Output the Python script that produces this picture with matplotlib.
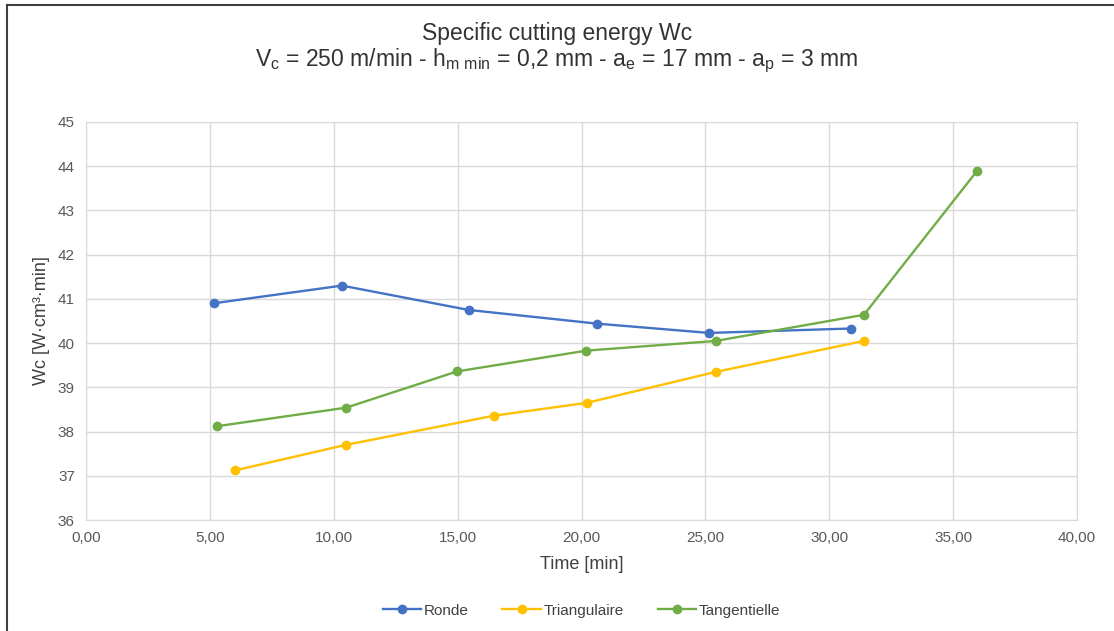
import matplotlib.pyplot as plt
from matplotlib.lines import Line2D
from matplotlib.ticker import FuncFormatter, MultipleLocator

plt.rcParams['font.family'] = ['Liberation Sans', 'DejaVu Sans']
plt.rcParams['mathtext.default'] = 'regular'

# data
ronde_t = [5.15, 10.33, 15.44, 20.63, 25.15, 30.87]
ronde_wc = [40.90, 41.30, 40.75, 40.44, 40.23, 40.33]

tri_t = [6.0, 10.5, 16.48, 20.22, 25.43, 31.4]
tri_wc = [37.12, 37.70, 38.36, 38.65, 39.35, 40.05]

tang_t = [5.28, 10.5, 14.98, 20.2, 25.43, 31.4, 35.96]
tang_wc = [38.12, 38.54, 39.36, 39.83, 40.05, 40.64, 43.89]

fig = plt.figure(figsize=(11.14, 6.31), dpi=100)
ax = fig.add_axes([0.0772, 0.1759, 0.8896, 0.6308])

ax.plot(ronde_t, ronde_wc, color='#4472C4', lw=1.7, marker='o', ms=6, label='Ronde')
ax.plot(tri_t, tri_wc, color='#FFC000', lw=1.7, marker='o', ms=6, label='Triangulaire')
ax.plot(tang_t, tang_wc, color='#70AD47', lw=1.7, marker='o', ms=6, label='Tangentielle')

ax.set_xlim(0, 40)
ax.set_ylim(36, 45)
ax.xaxis.set_major_locator(MultipleLocator(5))
ax.yaxis.set_major_locator(MultipleLocator(1))
ax.xaxis.set_major_formatter(FuncFormatter(lambda v, p: f'{v:.2f}'.replace('.', ',')))
ax.grid(True, color='#D9D9D9', lw=1)
ax.set_axisbelow(True)
for s in ax.spines.values():
    s.set_color('#D9D9D9')
ax.tick_params(length=0, labelsize=11, colors='#595959', pad=8)

ax.set_xlabel('Time [min]', fontsize=13, color='#404040', labelpad=8)
ax.set_ylabel('Wc [W·cm³·min]', fontsize=13, color='#404040', labelpad=6)

fig.text(0.5, 0.947, 'Specific cutting energy Wc', ha='center', va='center',
         fontsize=16.5, color='#333333')
fig.text(0.5, 0.903,
         r'V$_c$ = 250 m/min - h$_{m\ min}$ = 0,2 mm - a$_e$ = 17 mm - a$_p$ = 3 mm',
         ha='center', va='center', fontsize=16.5, color='#333333')

ax.legend(loc='center', bbox_to_anchor=(0.5, -0.228), ncol=3, frameon=False,
          fontsize=11, handlelength=2.5, columnspacing=2.2, handletextpad=0.2,
          labelcolor='#404040')

# outer chart border (top and left only visible)
fig.add_artist(Line2D([0.0067, 1], [0.9921, 0.9921], color='#404040', lw=1.5,
                      transform=fig.transFigure))
fig.add_artist(Line2D([0.0067, 0.0067], [0, 0.9921], color='#404040', lw=1.5,
                      transform=fig.transFigure))

fig.savefig('out.png', dpi=100)
